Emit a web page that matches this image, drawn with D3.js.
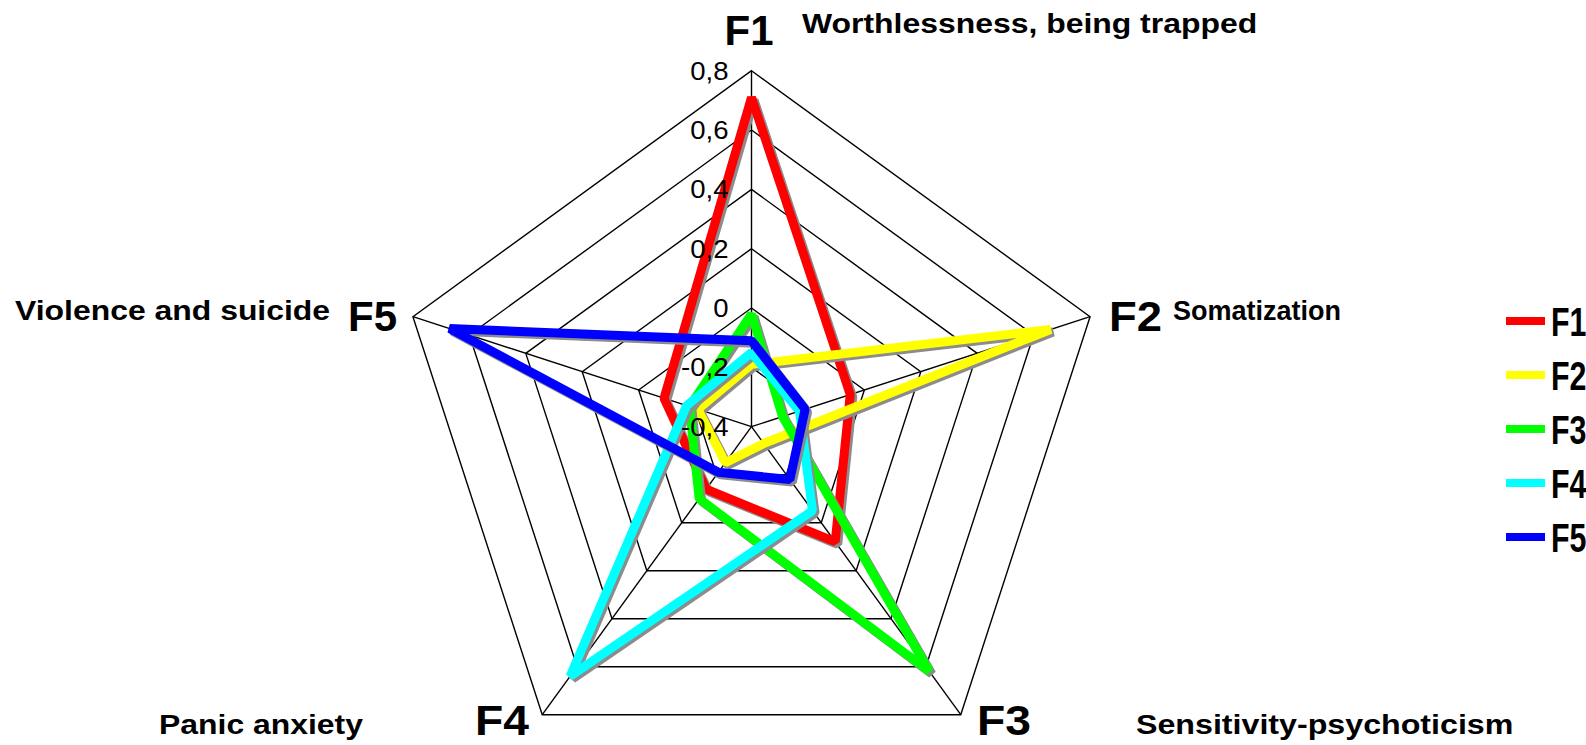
<!DOCTYPE html>
<html>
<head>
<meta charset="utf-8">
<script src="https://cdn.jsdelivr.net/npm/d3@7"></script>
<style>
  body { margin: 0; background: #fff; }
  svg { display: block; font-family: "Liberation Sans", Arial, sans-serif; }
</style>
</head>
<body>
<div id="viz-radar"></div>
<script>
//
// Radar plot of the five factor loadings.
//

var axisCodes = ["F1", "F2", "F3", "F4", "F5"];
var axisNames = ["Worthlessness, being trapped", "Somatization", "Sensitivity-psychoticism",
                 "Panic anxiety", "Violence and suicide"];
var tickValues = [-0.4, -0.2, 0, 0.2, 0.4, 0.6, 0.8];
var tickLabels = ["-0,4", "-0,2", "0", "0,2", "0,4", "0,6", "0,8"];

var seriesNames = ["F1", "F2", "F3", "F4", "F5"];
var seriesColors = ["#ff0000", "#ffff00", "#00ff00", "#00ffff", "#0000ff"];
// values on axes F1..F5
var valuesF1 = [0.71, -0.05, 0.08, -0.14, -0.09];
var valuesF2 = [-0.19, 0.66, -0.33, -0.25, -0.21];
var valuesF3 = [-0.02, -0.29, 0.62, -0.10, -0.18];
var valuesF4 = [-0.15, -0.23, -0.05, 0.64, -0.17];
var valuesF5 = [-0.11, -0.21, -0.18, -0.21, 0.67];
var seriesValues = [valuesF1, valuesF2, valuesF3, valuesF4, valuesF5];

const width = 1586, height = 745;
const center = { x: 751.5, y: 426.7 };
const radius = 356;

const svg = d3.select('#viz-radar').append('svg')
  .attr("width", width)
  .attr("height", height);

const r = d3.scaleLinear()
  .domain([tickValues[0], tickValues[tickValues.length - 1]])
  .range([0, radius]);
const angle = d3.scaleLinear()
  .domain([0, axisCodes.length])
  .range([0, 2 * Math.PI]);

const g = svg.append('g')
  .attr("transform", `translate(${center.x},${center.y})`);

function px(i, v) { return Math.sin(angle(i)) * r(v); }
function py(i, v) { return -Math.cos(angle(i)) * r(v); }

// rings
const radialLine = d3.lineRadial()
  .angle((d, i) => angle(i))
  .radius(d => r(d))
  .curve(d3.curveLinearClosed);

tickValues.slice(1).forEach(t => {
  g.append('path')
    .attr('d', radialLine(axisCodes.map(() => t)))
    .style('fill', 'none')
    .style('stroke', '#000')
    .style('stroke-width', 1.4);
});

// spokes
axisCodes.forEach((d, i) => {
  g.append('line')
    .attr('x1', 0).attr('y1', 0)
    .attr('x2', px(i, tickValues[tickValues.length - 1]))
    .attr('y2', py(i, tickValues[tickValues.length - 1]))
    .style('stroke', '#000')
    .style('stroke-width', 1.4);
});

// series lines with grey shadow
seriesValues.forEach((vals, s) => {
  g.append('path')
    .attr('d', radialLine(vals))
    .attr('transform', 'translate(2.5,2.5)')
    .style('fill', 'none')
    .style('stroke', '#8c8c8c')
    .style('stroke-width', 9)
    .style('stroke-linejoin', 'bevel');
  g.append('path')
    .attr('d', radialLine(vals))
    .style('fill', 'none')
    .style('stroke', seriesColors[s])
    .style('stroke-width', 9)
    .style('stroke-linejoin', 'bevel');
});

// tick labels along the F1 axis, drawn over the lines
tickValues.forEach((t, i) => {
  g.append('text')
    .attr('transform', `translate(-23,${-r(t) + 9}) scale(1.06,1)`)
    .attr('text-anchor', 'end')
    .style('font-size', '26px')
    .text(tickLabels[i]);
});

// axis labels (code and name)
var codeStyle = [
  { x: 749,  y: 45,  anchor: 'middle', size: 42, sx: 1.0 },
  { x: 1109, y: 331, anchor: 'start',  size: 42, sx: 1.08 },
  { x: 977,  y: 735, anchor: 'start',  size: 42, sx: 1.1 },
  { x: 529,  y: 735, anchor: 'end',    size: 42, sx: 1.1 },
  { x: 397,  y: 331, anchor: 'end',    size: 42, sx: 1.0 }
];
var nameStyle = [
  { x: 802,  y: 33,  size: 28, sx: 1.14 },
  { x: 1173, y: 320, size: 27, sx: 1.0 },
  { x: 1136, y: 734, size: 28, sx: 1.15 },
  { x: 159,  y: 734, size: 28, sx: 1.14 },
  { x: 15,   y: 320, size: 28, sx: 1.14 }
];
axisCodes.forEach((d, i) => {
  var c = codeStyle[i], n = nameStyle[i];
  svg.append('text')
    .attr('transform', `translate(${c.x},${c.y}) scale(${c.sx},1)`)
    .attr('text-anchor', c.anchor)
    .style('font-size', c.size + 'px').style('font-weight', 'bold')
    .text(d);
  svg.append('text')
    .attr('transform', `translate(${n.x},${n.y}) scale(${n.sx},1)`)
    .style('font-size', n.size + 'px').style('font-weight', 'bold')
    .text(axisNames[i]);
});

// legend
const legend = svg.append('g')
  .attr("transform", "translate(1506,321)");
seriesNames.forEach((d, i) => {
  legend.append('line')
    .attr('x1', 0).attr('x2', 39)
    .attr('y1', i * 54).attr('y2', i * 54)
    .style('stroke', seriesColors[i])
    .style('stroke-width', 8);
  legend.append('text')
    .attr('transform', `translate(45,${i * 54 + 15}) scale(0.76,1)`)
    .style('font-size', '40px').style('font-weight', 'bold')
    .text(d);
});
</script>
</body>
</html>
